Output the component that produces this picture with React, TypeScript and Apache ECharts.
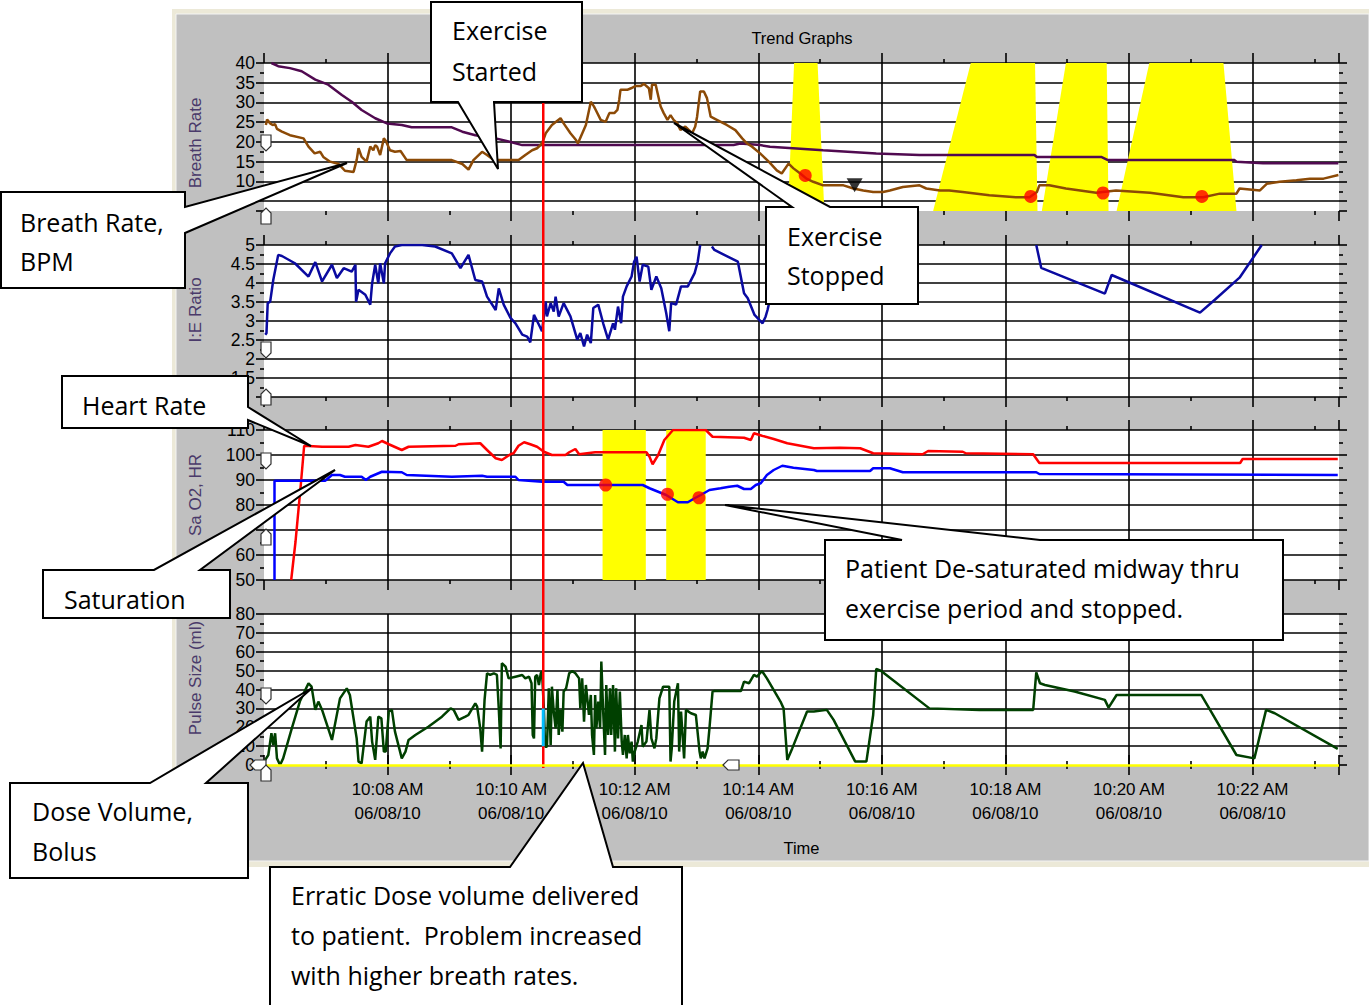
import React, { useEffect, useRef } from "react";
import * as echarts from "echarts";

// x values are minutes after 10:00 AM on 06/08/10
const xMin = 6;
const xMax = 23.4;
const dateLabel = "06/08/10";

// Breath rate (brown) and its trend (purple), BPM
const breathRate: [number, number][] = [
  [6.03, 24.3], [6.05, 25.7], [6.1, 24.7], [6.14, 24.3], [6.18, 24.5], [6.21, 23.3], [6.29, 22.6], [6.42, 21.7],
  [6.64, 20.9], [6.72, 18.8], [6.82, 17.1], [6.91, 17.5], [6.96, 16.2], [7.07, 15.0], [7.21, 14.4], [7.31, 12.7],
  [7.45, 12.4], [7.5, 15.4], [7.53, 18.4], [7.58, 16.2], [7.66, 15.0], [7.72, 18.8], [7.77, 17.9], [7.8, 19.2],
  [7.83, 18.8], [7.88, 16.7], [7.94, 20.9], [7.97, 20.3], [8.04, 17.9], [8.12, 17.5], [8.21, 17.7], [8.31, 15.4],
  [9.04, 15.4], [9.21, 14.4], [9.31, 13.0], [9.39, 15.4], [9.53, 17.5], [9.61, 16.7], [9.72, 15.4], [10.12, 15.4],
  [10.23, 16.7], [10.34, 17.9], [10.42, 18.4], [10.5, 19.6], [10.56, 22.2], [10.66, 24.3], [10.8, 26.0], [10.85, 24.7],
  [10.96, 22.2], [11.05, 20.5], [11.08, 19.6], [11.21, 24.3], [11.29, 30.2], [11.34, 29.0], [11.37, 28.1], [11.45, 25.6],
  [11.53, 25.1], [11.59, 27.3], [11.67, 27.3], [11.72, 28.1], [11.75, 30.7], [11.77, 33.2], [11.88, 33.2], [11.94, 33.6],
  [12.02, 34.2], [12.1, 34.2], [12.15, 34.7], [12.23, 33.6], [12.26, 30.7], [12.28, 34.5], [12.34, 34.5], [12.37, 32.4],
  [12.42, 29.0], [12.47, 27.3], [12.53, 25.6], [12.58, 26.8], [12.63, 25.6], [12.69, 24.7], [12.74, 23.0], [12.82, 23.9],
  [12.93, 22.2], [12.98, 23.9], [13.01, 26.4], [13.06, 32.8], [13.12, 32.8], [13.17, 31.1], [13.23, 26.4], [13.33, 25.6],
  [13.49, 24.3], [13.63, 23.0], [13.74, 20.9], [13.82, 19.6], [13.9, 18.8], [14.03, 17.1], [14.17, 15.0], [14.3, 12.8],
  [14.38, 12.0], [14.49, 14.5], [14.57, 13.3], [14.68, 12.0], [14.78, 10.7], [14.89, 9.9], [15.05, 9.0], [15.38, 9.0],
  [15.54, 8.2], [15.7, 7.7], [15.86, 7.3], [16.02, 7.3], [16.13, 7.7], [16.34, 8.6], [16.61, 9.0], [16.72, 8.2],
  [16.94, 7.7], [17.09, 7.7], [17.31, 7.3], [17.74, 6.5], [18.17, 6.0], [18.39, 6.0], [18.51, 7.3], [18.55, 9.0],
  [18.71, 9.0], [18.98, 8.2], [19.47, 7.1], [19.79, 7.7], [20.34, 7.1], [20.88, 6.0], [21.2, 6.0], [21.47, 6.9],
  [21.74, 6.9], [21.79, 8.2], [22.12, 7.7], [22.23, 9.4], [22.44, 9.9], [22.71, 10.3], [22.93, 10.7], [23.15, 10.7],
  [23.39, 11.6],
];

const breathTrend: [number, number][] = [
  [6.12, 40.0], [6.23, 39.2], [6.42, 38.7], [6.61, 37.9], [6.83, 35.8], [7.04, 34.5], [7.26, 31.9], [7.42, 30.2],
  [7.58, 28.1], [7.8, 26.0], [7.99, 24.7], [8.23, 24.3], [8.39, 23.7], [9.04, 23.7], [9.21, 22.6], [9.42, 21.7],
  [9.75, 20.9], [9.96, 20.1], [10.18, 19.2], [13.6, 19.2], [13.71, 19.6], [14.03, 19.2], [14.19, 18.8], [15.05, 17.9],
  [15.91, 17.1], [16.61, 16.7], [18.47, 16.7], [18.51, 16.2], [19.55, 16.2], [19.66, 15.4], [21.71, 15.4], [21.74, 15.0],
  [22.17, 14.6], [23.39, 14.6],
];

// I:E ratio (null = off scale)
const ieRatio: [number, number | null][] = [
  [6.02, 2.64], [6.04, 2.68], [6.06, 3.47], [6.1, 3.51], [6.15, 4.08], [6.23, 4.74], [6.29, 4.71], [6.5, 4.52],
  [6.72, 4.17], [6.83, 4.55], [6.94, 4.04], [7.1, 4.48], [7.18, 4.13], [7.29, 4.39], [7.42, 4.3], [7.48, 4.48],
  [7.49, 3.51], [7.53, 3.82], [7.64, 3.69], [7.72, 3.43], [7.75, 3.99], [7.8, 4.48], [7.85, 3.99], [7.88, 4.52],
  [7.94, 3.99], [7.96, 4.52], [8.04, 4.78], [8.12, 4.96], [8.23, 5.0], [8.56, 5.0], [8.77, 4.96], [9.04, 4.78],
  [9.18, 4.39], [9.31, 4.74], [9.42, 4.08], [9.53, 4.04], [9.61, 3.64], [9.75, 3.29], [9.8, 3.86], [9.88, 3.43],
  [9.99, 3.08], [10.07, 2.94], [10.18, 2.64], [10.26, 2.59], [10.31, 2.44], [10.37, 3.16], [10.45, 2.9], [10.5, 2.73],
  [10.56, 3.51], [10.58, 3.12], [10.64, 3.47], [10.69, 3.25], [10.72, 3.64], [10.77, 3.12], [10.85, 3.47], [10.96, 3.12],
  [11.07, 2.51], [11.12, 2.68], [11.18, 2.33], [11.23, 2.64], [11.29, 2.42], [11.33, 3.34], [11.41, 3.43], [11.49, 2.94],
  [11.57, 2.51], [11.65, 2.94], [11.68, 2.77], [11.73, 3.38], [11.78, 2.94], [11.81, 3.64], [11.87, 3.91], [11.95, 4.17],
  [11.99, 4.56], [12.03, 4.69], [12.08, 4.04], [12.13, 4.48], [12.22, 4.43], [12.27, 3.82], [12.35, 4.17], [12.43, 3.86],
  [12.51, 3.21], [12.56, 2.73], [12.59, 3.47], [12.67, 3.43], [12.75, 3.91], [12.86, 3.91], [12.97, 4.26], [13.02, 4.56],
  [13.06, 5.0], [13.15, null], [13.25, 4.96], [13.29, 4.87], [13.67, 4.56], [13.77, 3.73], [13.83, 3.6], [13.94, 3.16],
  [14.07, 2.94], [14.12, 3.12], [14.15, 3.29], [14.2, 3.64], [16.0, null], [18.5, 5.0], [18.58, 4.4], [19.61, 3.72],
  [19.72, 4.21], [21.15, 3.22], [21.39, 3.56], [21.79, 4.14], [22.15, 5.0],
];

// Heart rate (red) and saturation (blue)
const heartRate: [number, number][] = [
  [6.44, 50], [6.51, 65.3], [6.6, 89.3], [6.65, 103.7], [6.94, 103.3], [7.37, 103.3], [7.48, 104], [7.69, 103.3],
  [7.85, 104.7], [7.91, 105.6], [8.02, 104.3], [8.23, 102], [8.34, 103.3], [9.1, 103.7], [9.15, 104.3], [9.5, 104.7],
  [9.61, 102], [9.75, 98.7], [9.85, 98], [9.99, 100.3], [10.04, 100.7], [10.12, 103.7], [10.21, 105.1], [10.31, 104.3],
  [10.42, 103.3], [10.53, 101.3], [10.66, 100], [10.88, 100], [10.94, 101.1], [11.04, 102.4], [11.1, 100.3], [11.36, 101.1],
  [12.19, 101.1], [12.24, 99.3], [12.29, 96.3], [12.38, 100], [12.48, 106], [12.62, 110], [13.15, 110], [13.26, 107.3],
  [13.77, 106.9], [13.88, 106], [13.93, 108.7], [14.06, 107.7], [14.25, 106.4], [14.47, 104.7], [14.9, 102.7], [15.32, 102.9],
  [15.65, 102.7], [15.86, 100.7], [16.66, 100.3], [16.75, 101.6], [17.31, 101.3], [17.36, 100.7], [18.45, 100.3], [18.55, 96.8],
  [21.8, 96.8], [21.84, 98.4], [23.38, 98.4],
];

const saturation: [number, number][] = [
  [6.17, 50], [6.17, 89.7], [6.99, 89.7], [7.1, 92], [7.23, 92], [7.31, 91.3], [7.58, 91.3], [7.65, 90],
  [7.72, 91.3], [7.91, 93.3], [8.23, 93.1], [8.31, 92], [9.04, 91.3], [9.53, 91.7], [9.61, 91.3], [10.07, 91.3],
  [10.12, 90], [10.5, 89.3], [10.85, 89.3], [10.91, 88], [12.13, 88], [12.24, 86.7], [12.38, 85.3], [12.51, 84],
  [12.7, 81.1], [12.86, 81.1], [12.97, 82.7], [13.07, 84], [13.21, 86], [13.39, 86.7], [13.53, 87.3], [13.66, 87.7],
  [13.77, 86.4], [13.88, 86.4], [13.96, 88], [14.04, 88.7], [14.14, 92], [14.25, 94], [14.39, 95.7], [14.57, 94.9],
  [14.9, 94], [14.95, 93.6], [15.81, 93.6], [15.86, 94.7], [16.13, 94.7], [16.34, 93.1], [18.5, 93.1], [18.55, 92.4],
  [23.38, 92.0],
];

// Pulse size (dose volume), ml
const pulseSize: [number, number][] = [
  [6.02, 2.7], [6.07, 5.3], [6.12, 16.8], [6.15, 10.6], [6.18, 16.8], [6.21, 3.5], [6.26, 0], [6.31, 3.5],
  [6.45, 19.4], [6.58, 33.6], [6.72, 43.3], [6.77, 41.5], [6.83, 29.2], [6.88, 33.6], [6.94, 29.2], [7.1, 13.3],
  [7.23, 35.3], [7.34, 40.6], [7.39, 37.1], [7.5, 14.1], [7.53, 1.8], [7.58, 0.9], [7.66, 23], [7.72, 25.6],
  [7.75, 12.4], [7.8, 2.7], [7.85, 25.6], [7.9, 24.7], [7.94, 7.1], [7.97, 7.1], [8.02, 28.3], [8.07, 29.2],
  [8.12, 17.7], [8.23, 3.5], [8.29, 7.1], [8.34, 13.3], [8.45, 15.9], [8.66, 20.3], [8.88, 25.6], [9.02, 30],
  [9.07, 29.2], [9.15, 23.9], [9.26, 25.6], [9.31, 26.5], [9.42, 32.7], [9.45, 30.9], [9.5, 19.4], [9.53, 7.1],
  [9.57, 34.5], [9.61, 48.6], [9.66, 47.7], [9.72, 48.6], [9.77, 47.7], [9.8, 30], [9.83, 8.8], [9.85, 53.9],
  [9.91, 52.1], [9.96, 45.9], [10.07, 46.8], [10.18, 47.7], [10.23, 45.9], [10.29, 46.8], [10.33, 43.3], [10.35, 15.9],
  [10.37, 14.1], [10.39, 46.8], [10.42, 47.7], [10.45, 42.4], [10.48, 48.6], [10.5, 49.5], [10.53, 30], [10.55, 9.7],
  [10.58, 9.7], [10.61, 40.6], [10.64, 10.6], [10.66, 41.5], [10.69, 28.3], [10.72, 19.4], [10.75, 39.8], [10.77, 15.9],
  [10.8, 29.2], [10.83, 17.7], [10.85, 38.9], [10.89, 40.6], [10.94, 48.6], [10.99, 49.8], [11.04, 48.6], [11.1, 45.9],
  [11.12, 30], [11.15, 45.9], [11.18, 23], [11.21, 42.4], [11.26, 26.5], [11.29, 37.1], [11.31, 15.9], [11.34, 5.3],
  [11.36, 37.1], [11.38, 19.4], [11.41, 33.6], [11.44, 19.4], [11.46, 54.8], [11.49, 28.3], [11.52, 5.3], [11.54, 42.4],
  [11.57, 15.9], [11.6, 40.6], [11.62, 15.9], [11.65, 42.4], [11.68, 7.1], [11.7, 40.6], [11.73, 14.1], [11.76, 38.9],
  [11.79, 12.4], [11.81, 5.3], [11.84, 15.9], [11.87, 3.5], [11.89, 15.9], [11.92, 6.2], [11.95, 12.4], [11.97, 1.8],
  [12.0, 7.1], [12.05, 12.4], [12.11, 21.2], [12.13, 9.7], [12.19, 12.4], [12.24, 29.2], [12.27, 14.1], [12.32, 8.8],
  [12.35, 14.1], [12.4, 35.3], [12.46, 41.5], [12.56, 41.5], [12.58, 1.8], [12.6, 8.8], [12.64, 33.6], [12.7, 43.3],
  [12.72, 7.1], [12.75, 28.3], [12.8, 3.5], [12.83, 29.2], [12.91, 27.4], [12.99, 26.5], [13.05, 7.1], [13.07, 3.5],
  [13.1, 7.1], [13.13, 3.5], [13.18, 8.8], [13.21, 19.4], [13.26, 38.9], [13.29, 39.2], [13.72, 39.2], [13.77, 44.2],
  [13.85, 43.3], [13.93, 47.7], [13.98, 46.8], [14.06, 49.8], [14.14, 45.9], [14.36, 33.6], [14.41, 30], [14.47, 2.7],
  [14.55, 8.8], [14.79, 28.3], [14.9, 28.3], [15.11, 29.2], [15.22, 23.9], [15.57, 1.8], [15.75, 1.8], [15.86, 26.5],
  [15.91, 50.9], [15.99, 49.8], [16.77, 30], [17.58, 29.2], [18.45, 29.2], [18.5, 49.1], [18.56, 43.3], [18.64, 42.4],
  [19.12, 38.9], [19.61, 34.5], [19.67, 30.4], [19.8, 37.1], [21.17, 37.1], [21.33, 28.3], [21.74, 5.3], [22.03, 3.5],
  [22.22, 29.2], [22.36, 27.4], [23.38, 8.5],
];

const breathAlarms: [number, number][] = [[14.76, 11.5], [18.41, 6.2], [19.58, 7.06], [21.18, 6.2]];
const breathEvent: [number, number][] = [[15.56, 9.0]];
const satAlarms: [number, number][] = [[11.53, 88], [12.53, 84.3], [13.04, 82.9]];
// [topStart, topEnd, bottomStart, bottomEnd, topValue, bottomValue]
const breathHighlights: number[][] = [
  [14.58, 14.96, 14.48, 15.07, 40, 2.5],
  [17.44, 18.48, 16.83, 18.52, 40, 2.5],
  [18.98, 19.64, 18.59, 19.67, 40, 2.5],
  [20.33, 21.53, 19.8, 21.74, 40, 2.5],
];
const satHighlights: number[][] = [
  [11.48, 12.18, 11.48, 12.18, 110, 50],
  [12.51, 13.15, 12.51, 13.15, 110, 50],
];
const exerciseStart = 10.52;
const bolusMarker: [number, number][] = [[10.52, 10], [10.52, 30]];

const PLOT_LEFT = 264;
const PLOT_WIDTH = 1075;
const panels = [
  { top: 63, height: 148 },
  { top: 245, height: 152 },
  { top: 430, height: 150 },
  { top: 614, height: 151 },
];

const tickLine = { color: "#000", width: 1.6 };
const sysFont = '"Liberation Sans", Arial, sans-serif';
const calloutFont = '"Open Sans", "Noto Sans", sans-serif';

function pad2(n: number) {
  return String(n).padStart(2, "0");
}

function buildOption() {
  const grid: any[] = panels.map((p) => ({
    left: PLOT_LEFT,
    top: p.top,
    width: PLOT_WIDTH,
    height: p.height,
    show: true,
    backgroundColor: "#ffffff",
    borderWidth: 0,
  }));
  grid.push({ left: PLOT_LEFT, top: 63, width: PLOT_WIDTH, height: 705, show: false });

  const xAxis: any[] = [];
  panels.forEach((_, i) => {
    const base = {
      type: "value",
      gridIndex: i,
      min: xMin,
      max: xMax,
      interval: 2,
      axisLine: { show: false },
      axisTick: { show: true, length: 10, lineStyle: tickLine },
      minorTick: { show: true, splitNumber: 2, length: 4, lineStyle: tickLine },
    };
    xAxis.push({
      ...base,
      position: "bottom",
      splitLine: { show: true, showMinLine: false, showMaxLine: false, lineStyle: tickLine },
      axisLabel:
        i === 3
          ? {
              show: true,
              showMinLabel: false,
              showMaxLabel: false,
              margin: 12,
              fontFamily: sysFont,
              fontSize: 17,
              color: "#000",
              lineHeight: 24,
              formatter: (v: number) =>
                v >= 8 && v <= 22 && Number.isInteger(v) ? `10:${pad2(v)} AM\n${dateLabel}` : "",
            }
          : { show: false },
      name: i === 3 ? "Time" : "",
      nameLocation: "middle",
      nameGap: 74,
      nameTextStyle: { fontFamily: sysFont, fontSize: 16.5, color: "#000" },
    });
    xAxis.push({ ...base, position: "top", splitLine: { show: false }, axisLabel: { show: false } });
  });
  xAxis.push({ type: "value", gridIndex: 4, min: xMin, max: xMax, show: false });

  const ySpecs: any[] = [
    { min: 2.5, max: 40, minInterval: 5, maxInterval: 5, hide: (v: number) => v < 10, minLine: false },
    { min: 1, max: 5, interval: 0.5, hide: (v: number) => v <= 1, minLine: true },
    { min: 50, max: 110, interval: 10, hide: (v: number) => v === 70, minLine: true },
    { min: 0, max: 80, interval: 10, hide: () => false, minLine: false },
  ];
  const yAxis: any[] = [];
  ySpecs.forEach((s, i) => {
    const base: any = {
      type: "value",
      gridIndex: i,
      min: s.min,
      max: s.max,
      axisLine: { show: false },
      axisTick: { show: true, length: 8, lineStyle: tickLine },
      minorTick: { show: true, splitNumber: 2, length: 4, lineStyle: tickLine },
    };
    if (s.interval) base.interval = s.interval;
    if (s.minInterval) {
      base.minInterval = s.minInterval;
      base.maxInterval = s.maxInterval;
    }
    yAxis.push({
      ...base,
      position: "left",
      splitLine: { show: true, showMinLine: s.minLine, showMaxLine: true, lineStyle: tickLine },
      axisLabel: {
        show: true,
        margin: 9,
        fontFamily: sysFont,
        fontSize: 17.5,
        color: "#000",
        formatter: (v: number) => (s.hide(v) ? "" : String(v)),
      },
    });
    yAxis.push({ ...base, position: "right", splitLine: { show: false }, axisLabel: { show: false } });
  });
  yAxis.push({ type: "value", gridIndex: 4, min: 0, max: 1, show: false });

  const lineBase = {
    type: "line",
    showSymbol: false,
    symbol: "none",
    connectNulls: false,
    clip: true,
    silent: true,
  };

  const bandRender = (params: any, api: any) => {
    const p1 = api.coord([api.value(0), api.value(4)]);
    const p2 = api.coord([api.value(1), api.value(4)]);
    const p3 = api.coord([api.value(3), api.value(5)]);
    const p4 = api.coord([api.value(2), api.value(5)]);
    return { type: "polygon", shape: { points: [p1, p2, p3, p4] }, style: { fill: "#ffff00" } };
  };

  const series: any[] = [
    {
      type: "custom",
      xAxisIndex: 0,
      yAxisIndex: 0,
      data: breathHighlights,
      renderItem: bandRender,
      encode: { x: [0, 1, 2, 3], y: [4, 5] },
      z: 1,
      silent: true,
      clip: true,
    },
    { ...lineBase, name: "Breath Trend", xAxisIndex: 0, yAxisIndex: 0, data: breathTrend, lineStyle: { color: "#500a50", width: 2.5 }, z: 2 },
    { ...lineBase, name: "Breath Rate", xAxisIndex: 0, yAxisIndex: 0, data: breathRate, lineStyle: { color: "#8c4a06", width: 2.5 }, z: 2 },
    {
      type: "scatter",
      xAxisIndex: 0,
      yAxisIndex: 0,
      data: breathAlarms,
      symbol: "circle",
      symbolSize: 13,
      itemStyle: { color: "#ff0000" },
      z: 3,
      silent: true,
    },
    {
      type: "scatter",
      xAxisIndex: 0,
      yAxisIndex: 0,
      data: breathEvent,
      symbol: "triangle",
      symbolRotate: 180,
      symbolSize: [16, 14],
      itemStyle: { color: "#000000" },
      z: 3,
      silent: true,
    },
    { ...lineBase, name: "I:E Ratio", xAxisIndex: 2, yAxisIndex: 2, data: ieRatio, lineStyle: { color: "#0a0aa0", width: 2.5 }, z: 2 },
    {
      type: "custom",
      xAxisIndex: 4,
      yAxisIndex: 4,
      data: satHighlights,
      renderItem: bandRender,
      encode: { x: [0, 1, 2, 3], y: [4, 5] },
      z: 1,
      silent: true,
      clip: true,
    },
    { ...lineBase, name: "Heart Rate", xAxisIndex: 4, yAxisIndex: 4, data: heartRate, lineStyle: { color: "#ff0000", width: 2.5 }, z: 2 },
    { ...lineBase, name: "Saturation", xAxisIndex: 4, yAxisIndex: 4, data: saturation, lineStyle: { color: "#0000ff", width: 2.5 }, z: 2 },
    {
      type: "scatter",
      xAxisIndex: 4,
      yAxisIndex: 4,
      data: satAlarms,
      symbol: "circle",
      symbolSize: 13,
      itemStyle: { color: "#ff0000" },
      z: 3,
      silent: true,
    },
    {
      ...lineBase,
      name: "Pulse Size",
      xAxisIndex: 6,
      yAxisIndex: 6,
      data: pulseSize,
      lineStyle: { color: "#004000", width: 2.5 },
      z: 2,
      markLine: {
        silent: true,
        symbol: "none",
        label: { show: false },
        lineStyle: { color: "#ffff00", width: 2.5, type: "solid" },
        data: [{ yAxis: 0 }],
      },
    },
    {
      ...lineBase,
      name: "Exercise Start",
      xAxisIndex: 8,
      yAxisIndex: 8,
      data: [[exerciseStart, 0], [exerciseStart, 1]],
      lineStyle: { color: "#ff0000", width: 2.5 },
      z: 4,
    },
    { ...lineBase, name: "Bolus", xAxisIndex: 6, yAxisIndex: 6, data: bolusMarker, lineStyle: { color: "#00c0ff", width: 3 }, z: 5 },
  ];

  const callout = (points: number[][]) => ({
    type: "polygon",
    shape: { points },
    style: { fill: "#ffffff", stroke: "#000000", lineWidth: 2 },
    z: 100,
  });
  const ctext = (text: string, x: number, y: number) => ({
    type: "text",
    x,
    y,
    style: { text, fontFamily: calloutFont, fontSize: 25, fill: "#000", align: "left", verticalAlign: "middle" },
    z: 101,
  });
  const axisName = (text: string, y: number) => ({
    type: "text",
    x: 195,
    y,
    rotation: Math.PI / 2,
    style: { text, fontFamily: sysFont, fontSize: 17, fill: "#4a3a6a", align: "center", verticalAlign: "middle" },
    z: 10,
  });
  const handleStyle = { fill: "#ffffff", stroke: "#303030", lineWidth: 1.2 };
  const pinDown = (cx: number, cy: number) => ({
    type: "polygon",
    shape: { points: [[cx - 5, cy - 8], [cx + 5, cy - 8], [cx + 5, cy + 3], [cx, cy + 8], [cx - 5, cy + 3]] },
    style: handleStyle,
    z: 50,
  });
  const pinUp = (cx: number, cy: number) => ({
    type: "polygon",
    shape: { points: [[cx - 5, cy + 8], [cx + 5, cy + 8], [cx + 5, cy - 3], [cx, cy - 8], [cx - 5, cy - 3]] },
    style: handleStyle,
    z: 50,
  });
  const pinLeft = (cx: number, cy: number) => ({
    type: "polygon",
    shape: { points: [[cx - 8, cy], [cx - 3, cy - 5], [cx + 8, cy - 5], [cx + 8, cy + 5], [cx - 3, cy + 5]] },
    style: handleStyle,
    z: 50,
  });

  const graphic: any[] = [
    { type: "rect", shape: { x: 172, y: 9, width: 1197, height: 858 }, style: { fill: "#ece9d8" }, z: -10 },
    { type: "rect", shape: { x: 176, y: 14, width: 1193, height: 847 }, style: { fill: "#c0c0c0", stroke: "#f4f4f4", lineWidth: 1 }, z: -9 },
    {
      type: "text",
      x: 802,
      y: 38,
      style: { text: "Trend Graphs", fontFamily: sysFont, fontSize: 16.5, fill: "#000", align: "center", verticalAlign: "middle" },
      z: 10,
    },
    axisName("Breath Rate", 143),
    axisName("I:E Ratio", 310),
    axisName("Sa O2, HR", 495),
    axisName("Pulse Size (ml)", 678),
    pinDown(266, 143), pinUp(266, 216),
    pinDown(266, 350), pinUp(266, 397),
    pinDown(266, 461), pinUp(266, 537),
    pinDown(266, 696), pinLeft(258, 765), pinUp(266, 773),
    pinLeft(731, 765),
    callout([[431, 2], [582, 2], [582, 102], [494, 102], [498, 169], [458, 102], [431, 102]]),
    ctext("Exercise", 452, 30),
    ctext("Started", 452, 71),
    callout([[1, 192], [185, 192], [185, 207], [347, 163], [185, 233], [185, 288], [1, 288]]),
    ctext("Breath Rate,", 20, 222),
    ctext("BPM", 20, 261),
    callout([[766, 207], [792, 207], [674, 123], [830, 207], [918, 207], [918, 304], [766, 304]]),
    ctext("Exercise", 787, 236),
    ctext("Stopped", 787, 275),
    callout([[62, 376], [248, 376], [248, 407], [311, 446], [248, 420], [248, 428], [62, 428]]),
    ctext("Heart Rate", 82, 405),
    callout([[43, 570], [154, 570], [335, 470], [200, 570], [230, 570], [230, 618], [43, 618]]),
    ctext("Saturation", 64, 599),
    callout([[825, 540], [902, 540], [725, 505], [1040, 540], [1283, 540], [1283, 640], [825, 640]]),
    ctext("Patient De-saturated midway thru", 845, 568),
    ctext("exercise period and stopped.", 845, 608),
    callout([[10, 783], [150, 783], [312, 688], [206, 783], [248, 783], [248, 878], [10, 878]]),
    ctext("Dose Volume,", 32, 811),
    ctext("Bolus", 32, 851),
    callout([[270, 867], [510, 867], [583, 763], [613, 867], [682, 867], [682, 1010], [270, 1010]]),
    ctext("Erratic Dose volume delivered", 291, 895),
    ctext("to patient.  Problem increased", 291, 935),
    ctext("with higher breath rates.", 291, 975),
  ];

  return {
    animation: false,
    backgroundColor: "#ffffff",
    grid,
    xAxis,
    yAxis,
    series,
    graphic,
  };
}

export default function App() {
  const ref = useRef<HTMLDivElement>(null);
  useEffect(() => {
    if (!ref.current) return;
    const chart = echarts.init(ref.current, undefined, { renderer: "svg" });
    chart.setOption(buildOption() as any);
    return () => chart.dispose();
  }, []);
  return (
    <div
      ref={ref}
      style={{ position: "fixed", left: 0, top: 0, width: 1369, height: 1005, background: "#ffffff" }}
    />
  );
}
